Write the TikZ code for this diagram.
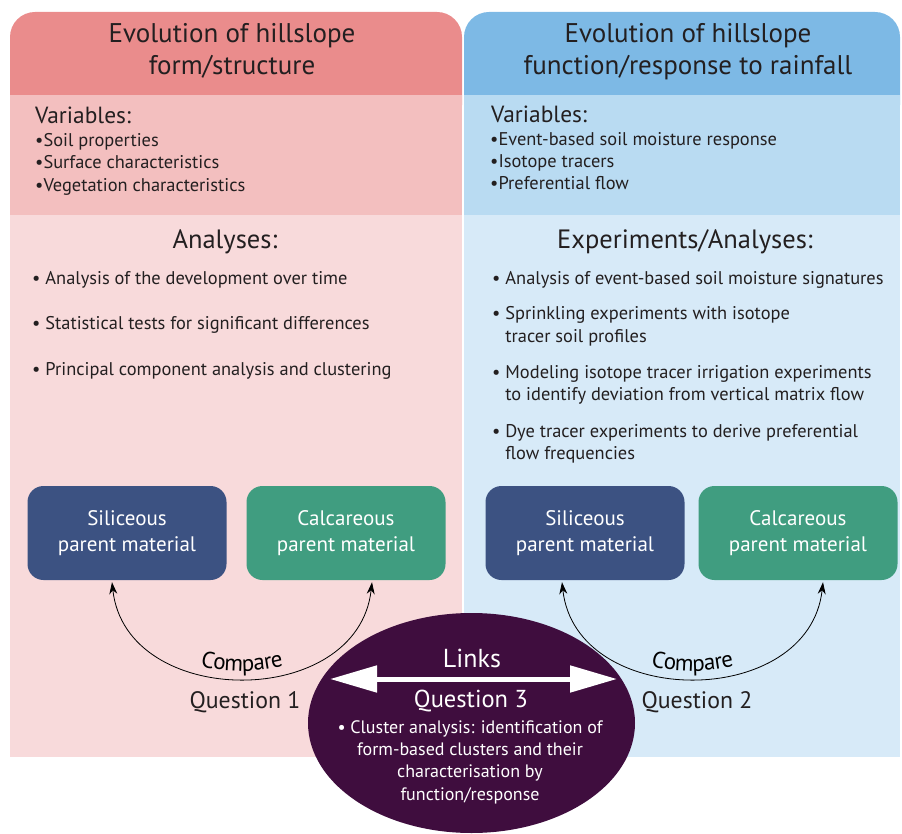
\documentclass[tikz,border=0pt]{standalone}
\usepackage{fontspec}
\setmainfont{PT Sans}
\usepackage{xcolor}
\usetikzlibrary{positioning, arrows.meta, shapes.geometric, decorations.text}

\definecolor{formhead}{HTML}{EA8C8C}
\definecolor{formvar}{HTML}{F3BFBF}
\definecolor{formana}{HTML}{F8DADB}
\definecolor{funchead}{HTML}{7DB9E5}
\definecolor{funcvar}{HTML}{B9DBF2}
\definecolor{funcana}{HTML}{D7EAF8}
\definecolor{silblue}{HTML}{3C5282}
\definecolor{calgreen}{HTML}{409D80}
\definecolor{linkpurple}{HTML}{3F0D3E}
\definecolor{ink}{HTML}{231F20}

\begin{document}
\begin{tikzpicture}[
    x=1pt, y=-1pt,
    every node/.style={inner sep=0pt, text=ink},
    % multi-line nodes sit on the baseline of their last line
    head/.style={font=\fontsize{27}{32}\selectfont, align=center, anchor=base},
    title/.style={font=\fontsize{23.4}{26}\selectfont, anchor=base west},
    subtitle/.style={font=\fontsize{26.5}{30}\selectfont, anchor=base},
    item/.style={font=\fontsize{18.4}{22.5}\selectfont, anchor=base west, align=left},
    rock/.style={rectangle, rounded corners=16pt, minimum width=199pt,
                 minimum height=94pt, text=white, align=center,
                 font=\fontsize{21}{26.5}\selectfont},
    cmp/.style={{Stealth[length=12pt, width=8pt]}-{Stealth[length=12pt, width=8pt]},
                line width=0.8pt, black,
                postaction={decorate, decoration={text along path, text align=center,
                raise=7pt, text={|\fontsize{23}{25}\selectfont|Compare}}}},
    qlabel/.style={font=\fontsize{23.8}{26}\selectfont, anchor=base},
    linktext/.style={text=white, align=center, anchor=base},
    linkarr/.style={{Triangle[length=47pt, width=26pt]}-{Triangle[length=47pt, width=26pt]},
                    line width=5pt, white}
]
\useasboundingbox (0,0) rectangle (902,834);

% form / structure column
\fill[formhead, rounded corners=25pt] (10,12) rectangle (462,130);
\fill[formvar] (10,95) rectangle (462,215);
\fill[formana] (10,215) rectangle (462,757);

% function / response column
\fill[funchead, rounded corners=25pt] (464,12) rectangle (900,130);
\fill[funcvar] (464,95) rectangle (900,215);
\fill[funcana] (464,215) rectangle (900,757);

\node[head] (lhead) at (232,75) {Evolution of hillslope\\form/structure};
\node[head] (rhead) at (688,75) {Evolution of hillslope\\function/response to rainfall};

\node[title] (lvar) at (35,124) {Variables:};
\node[item] (lv1) at (35,147) {•Soil properties};
\node[item] (lv2) at (35,169) {•Surface characteristics};
\node[item] (lv3) at (35,192) {•Vegetation characteristics};

\node[title] (rvar) at (491,123) {Variables:};
\node[item] (rv1) at (490,146) {•Event-based soil moisture response};
\node[item] (rv2) at (490,168) {•Isotope tracers};
\node[item] (rv3) at (490,190) {•Preferential flow};

\node[subtitle] (lana) at (225,249) {Analyses:};
\node[item] (la1) at (32,284) {• Analysis of the development over time};
\node[item] (la2) at (32,329) {• Statistical tests for significant differences};
\node[item] (la3) at (32,375) {• Principal component analysis and clustering};

\node[subtitle] (rana) at (685,249) {Experiments/Analyses:};
\node[item] (ra1) at (492,284) {• Analysis of event-based soil moisture signatures};
\node[item] (ra2) at (492,342) {• Sprinkling experiments with isotope\\\phantom{• }tracer soil profiles};
\node[item] (ra3) at (492,400.5) {• Modeling isotope tracer irrigation experiments\\\phantom{• }to identify deviation from vertical matrix flow};
\node[item] (ra4) at (492,459.5) {• Dye tracer experiments to derive preferential\\\phantom{• }flow frequencies};

% parent material boxes
\node[rock, fill=silblue]  (lsil) at (127,533) {Siliceous\\parent material};
\node[rock, fill=calgreen] (lcal) at (346,533) {Calcareous\\parent material};
\node[rock, fill=silblue]  (rsil) at (585,533) {Siliceous\\parent material};
\node[rock, fill=calgreen] (rcal) at (798,533) {Calcareous\\parent material};

\draw[cmp] ([xshift=-15pt, yshift=-2pt]lsil.south) .. controls +(14,128) and +(-14,128) .. ([xshift=26pt, yshift=-2pt]lcal.south);
\draw[cmp] ([xshift=-23pt, yshift=-2pt]rsil.south) .. controls +(14,128) and +(-14,128) .. ([xshift=25pt, yshift=-2pt]rcal.south);

\node[qlabel] (q1) at (245,708) {Question 1};
\node[qlabel] (q2) at (697,708) {Question 2};

% linking question
\node[ellipse, fill=linkpurple, minimum width=327pt, minimum height=220pt] (links) at (471.5,723) {};
\node[linktext, font=\fontsize{26}{28}\selectfont] (lktitle) at (472,667) {Links};
\coordinate (lk-w) at (330,679);
\coordinate (lk-e) at (617,679);
\draw[linkarr] (lk-w) -- (lk-e);
\node[linktext, font=\fontsize{24.5}{28}\selectfont] (q3) at (471,707) {Question 3};
\node[linktext, font=\fontsize{18}{22.2}\selectfont] (q3txt) at (470,800)
    {• Cluster analysis: identification of\\form-based clusters and their\\characterisation by\\function/response};
\end{tikzpicture}
\end{document}
